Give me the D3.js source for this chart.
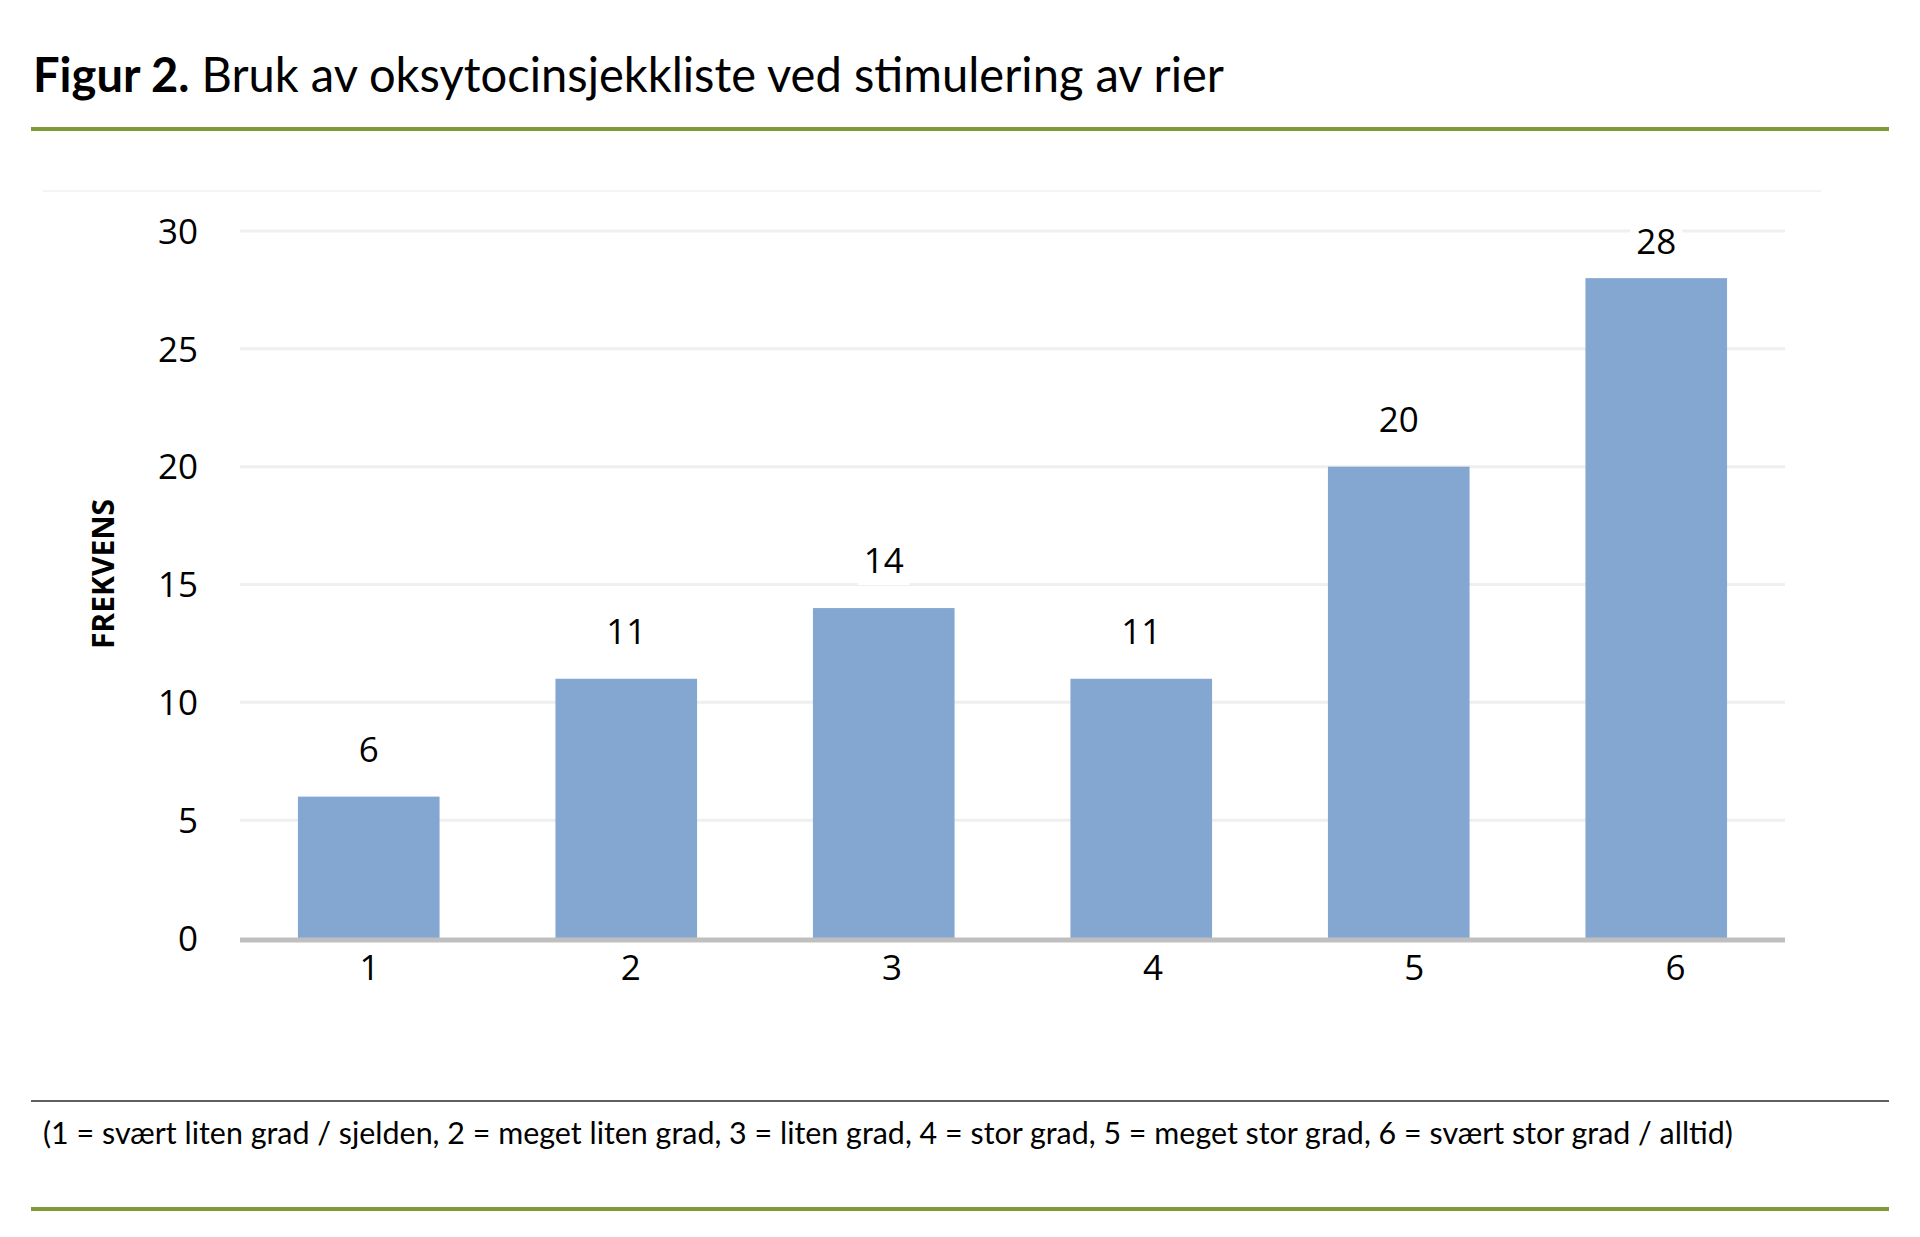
<!DOCTYPE html>
<html>
<head>
<meta charset="utf-8">
<script src="https://cdn.jsdelivr.net/npm/d3@7"></script>
<style>
  body { margin: 0; background: #fff; }
  text { font-family: "Open Sans", sans-serif; fill: #000; }
</style>
</head>
<body>
<div id="chart"></div>
<script>
var categories = ["1", "2", "3", "4", "5", "6"];
var values = [6, 11, 14, 11, 20, 28];
var yTicks = [0, 5, 10, 15, 20, 25, 30];
var titleBold = "Figur 2.";
var titleRest = " Bruk av oksytocinsjekkliste ved stimulering av rier";
var yLabel = "FREKVENS";
var footnote = "(1 = svært liten grad / sjelden, 2 = meget liten grad, 3 = liten grad, 4 = stor grad, 5 = meget stor grad, 6 = svært stor grad / alltid)";

var width = 1920;
var height = 1237;

var svg = d3.select("#chart").append("svg")
          .attr("width", width)
          .attr("height", height);

// title + green rule
var title = svg.append("text")
  .attr("x", 33)
  .attr("y", 92)
  .attr("textLength", 1191)
  .attr("lengthAdjust", "spacingAndGlyphs")
  .style("font-family", "Lato, 'Open Sans', sans-serif")
  .style("font-size", "48px");
title.append("tspan").style("font-weight", "bold").text(titleBold);
title.append("tspan").text(titleRest);

svg.append("rect")
  .attr("x", 31).attr("y", 127)
  .attr("width", 1858).attr("height", 4)
  .attr("fill", "#7f9b37");

// faint chart area border
svg.append("line")
  .attr("x1", 43).attr("x2", 1821)
  .attr("y1", 191).attr("y2", 191)
  .attr("stroke", "#f4f4f4")
  .attr("stroke-width", 2);

var x = d3.scaleBand().domain(categories).range([240, 1785]).paddingInner(0.45).paddingOuter(0.225);
var y = d3.scaleLinear().domain([0, 30]).range([938, 231]);
// category labels sit a little wider apart than the bars in the original
var xLab = d3.scalePoint().domain(categories).range([369, 1675]);

// gridlines
svg.append("g").selectAll("line")
  .data(yTicks.filter(function(d) { return d > 0; }))
  .enter().append("line")
  .attr("x1", 240).attr("x2", 1785)
  .attr("y1", function(d) { return y(d); })
  .attr("y2", function(d) { return y(d); })
  .attr("stroke", "#efefef")
  .attr("stroke-width", 3);

// y axis labels
var yAxis = svg.append("g")
  .attr("transform", "translate(198,0)")
  .call(d3.axisLeft(y).tickValues(yTicks).tickSize(0).tickPadding(0));
yAxis.select(".domain").remove();
yAxis.selectAll("text")
  .attr("dy", "0.35em")
  .style("font-family", "'Open Sans', sans-serif")
  .style("font-size", "35px")
  .attr("fill", "#000");

// bars
svg.append("g").selectAll("rect")
  .data(values)
  .enter().append("rect")
  .attr("x", function(d, i) { return x(categories[i]); })
  .attr("y", function(d) { return y(d); })
  .attr("width", x.bandwidth())
  .attr("height", function(d) { return y(0) - y(d); })
  .attr("fill", "#84a7d1");

// base axis line
svg.append("line")
  .attr("x1", 240).attr("x2", 1785)
  .attr("y1", y(0) + 2).attr("y2", y(0) + 2)
  .attr("stroke", "#bfbfbf")
  .attr("stroke-width", 5);

// x axis labels
var xAxis = svg.append("g")
  .attr("transform", "translate(0,955)")
  .call(d3.axisBottom(xLab).tickSize(0).tickPadding(0));
xAxis.select(".domain").remove();
xAxis.selectAll("text")
  .attr("dy", "0.71em")
  .style("font-family", "'Open Sans', sans-serif")
  .style("font-size", "35px")
  .attr("fill", "#000");

// value labels with white boxes (kept inside the plot at the top)
var labels = svg.append("g").selectAll("g")
  .data(values)
  .enter().append("g")
  .attr("transform", function(d, i) {
    return "translate(" + (x(categories[i]) + x.bandwidth() / 2) + "," + Math.max(y(d) - 35, 254) + ")";
  });
labels.append("rect")
  .attr("x", function(d) { return String(d).length > 1 ? -26 : -16; })
  .attr("y", -30)
  .attr("width", function(d) { return String(d).length > 1 ? 52 : 32; })
  .attr("height", 42)
  .attr("fill", "#fff");
labels.append("text")
  .attr("text-anchor", "middle")
  .style("font-size", "35px")
  .text(function(d) { return d; });

// y axis title
svg.append("text")
  .attr("transform", "translate(114,574) rotate(-90)")
  .attr("text-anchor", "middle")
  .style("font-weight", "bold")
  .style("font-size", "30px")
  .text(yLabel);

// footnote
svg.append("rect")
  .attr("x", 31).attr("y", 1100)
  .attr("width", 1858).attr("height", 2)
  .attr("fill", "#5f5f5f");

svg.append("text")
  .attr("x", 43)
  .attr("y", 1144)
  .attr("textLength", 1690)
  .attr("lengthAdjust", "spacingAndGlyphs")
  .style("font-family", "Lato, 'Open Sans', sans-serif")
  .style("font-size", "30px")
  .text(footnote);

svg.append("rect")
  .attr("x", 31).attr("y", 1207)
  .attr("width", 1858).attr("height", 4)
  .attr("fill", "#7f9b37");
</script>
</body>
</html>
